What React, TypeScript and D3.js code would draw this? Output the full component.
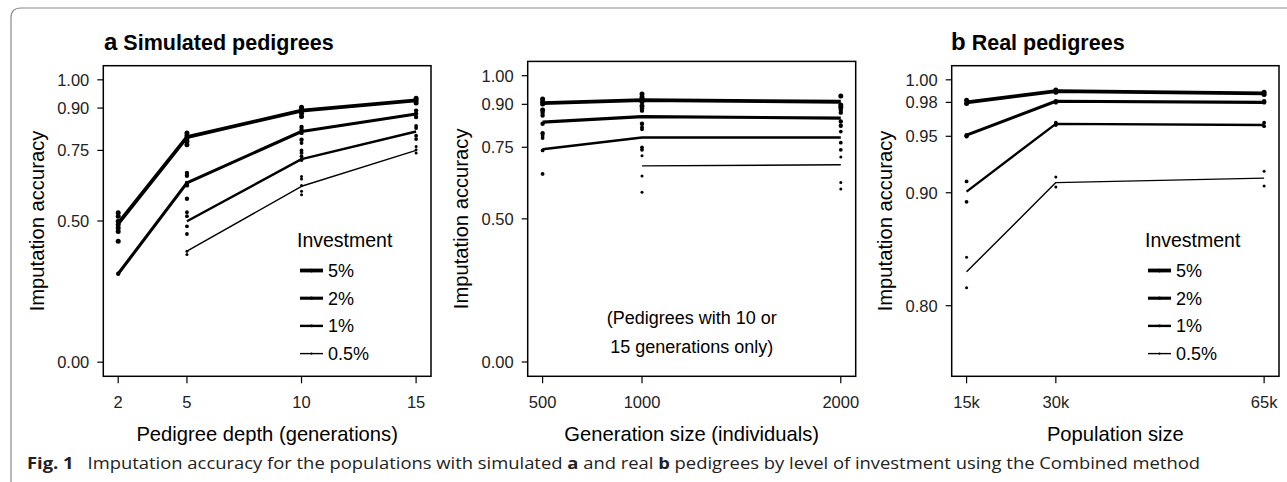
import React from "react";
import * as d3 from "d3";

// ---------- DATA ----------
const investments = ["5%", "2%", "1%", "0.5%"];

// Panel a: pedigree depth
const depthX = [2, 5, 10, 15];
const lineA = [
  [0.491, 0.797, 0.891, 0.927],
  [0.313, 0.635, 0.817, 0.879],
  [null, 0.499, 0.719, 0.817],
  [null, 0.393, 0.623, 0.750],
];
const ptsA = [
  [[0.529, 0.517, 0.499, 0.487, 0.475, 0.463, 0.428], [0.812, 0.802, 0.794, 0.782, 0.770], [0.903, 0.894, 0.882, 0.870], [0.935, 0.927, 0.918]],
  [[0.313], [0.670, 0.660, 0.635, 0.626, 0.579], [0.833, 0.823, 0.812, 0.788], [0.891, 0.880, 0.868]],
  [[], [0.531, 0.517, 0.481, 0.454], [0.776, 0.750, 0.741, 0.729, 0.716], [0.837, 0.829, 0.802, 0.790]],
  [[], [0.393, 0.381], [0.658, 0.649, 0.626, 0.605, 0.593], [0.764, 0.752, 0.741]],
];
const depthTicks = [2, 5, 10, 15];
const accTicksA = [0.0, 0.5, 0.75, 0.9, 1.0];

// Middle panel: generation size
const genX = [500, 1000, 2000];
const lineM = [
  [0.904, 0.915, 0.909],
  [0.838, 0.857, 0.852],
  [0.743, 0.784, 0.784],
  [null, 0.685, 0.689],
];
const ptsM = [
  [[0.919, 0.909, 0.901, 0.880], [0.936, 0.925, 0.909, 0.894], [0.929, 0.898, 0.890]],
  [[0.871, 0.861, 0.832, 0.799], [0.886, 0.878, 0.832], [0.880, 0.871, 0.840, 0.825]],
  [[0.790, 0.782, 0.739, 0.657], [0.820, 0.813, 0.750, 0.741], [0.805, 0.766, 0.741]],
  [[], [0.720, 0.650, 0.593], [0.716, 0.627, 0.604]],
];
const genTicks = [500, 1000, 2000];

// Panel b: population size (thousands)
const popX = [15, 30, 65];
const lineB = [
  [0.980, 0.990, 0.988],
  [0.951, 0.981, 0.980],
  [0.901, 0.961, 0.960],
  [0.830, 0.909, 0.913],
];
const ptsB = [
  [[0.982, 0.979], [0.991, 0.989], [0.989, 0.987]],
  [[0.951, 0.950], [0.981, 0.980], [0.981, 0.980]],
  [[0.910, 0.892], [0.962, 0.960], [0.962, 0.959]],
  [[0.843, 0.816], [0.914, 0.905], [0.919, 0.906]],
];
const popTicks = [15, 30, 65];
const popTickLabels = ["15k", "30k", "65k"];
const accTicksB = [0.8, 0.9, 0.95, 0.98, 1.0];

// ---------- STYLE ----------
const lineW = [3.8, 3.1, 2.4, 1.4];
const dotR = [2.5, 2.2, 1.9, 1.5];
const FONT = "'Liberation Sans', Arial, Helvetica, sans-serif";

type PanelProps = {
  x0: number; x1: number; y0: number; y1: number;
  xDomain: [number, number]; yDomain: [number, number];
  xs: number[]; lines: (number | null)[][]; pts: number[][][];
  xTicks: number[]; xTickLabels?: string[]; yTicks: number[];
  xTitle: string; yTitleX: number;
};

function Panel(p: PanelProps) {
  const xs = d3.scaleLinear().domain(p.xDomain).range([p.x0, p.x1]);
  const ys = d3.scaleLinear().domain(p.yDomain).range([p.y1, p.y0]);
  const line = d3
    .line<[number, number | null]>()
    .defined((d) => d[1] !== null)
    .x((d) => xs(d[0]))
    .y((d) => ys(d[1] as number));
  const midY = (p.y0 + p.y1) / 2;
  return (
    <g>
      {p.lines.map((ln, i) => (
        <path
          key={"l" + i}
          d={line(p.xs.map((x, j) => [x, ln[j]] as [number, number | null])) || ""}
          fill="none"
          stroke="#000"
          strokeWidth={lineW[i]}
          strokeLinejoin="round"
        />
      ))}
      {p.pts.map((series, i) =>
        series.map((vals, j) =>
          vals.map((v, k) => (
            <circle key={`p${i}-${j}-${k}`} cx={xs(p.xs[j])} cy={ys(v)} r={dotR[i]} fill="#000" />
          ))
        )
      )}
      <rect x={p.x0} y={p.y0} width={p.x1 - p.x0} height={p.y1 - p.y0} fill="none" stroke="#000" strokeWidth={1.5} />
      {p.yTicks.map((t) => (
        <g key={"yt" + t}>
          <line x1={p.x0 - 6} x2={p.x0} y1={ys(t)} y2={ys(t)} stroke="#000" strokeWidth={1.2} />
          <text x={p.x0 - 14} y={ys(t)} dy="0.36em" textAnchor="end" fontSize={16.5} fill="#222" fontFamily={FONT}>
            {t.toFixed(2)}
          </text>
        </g>
      ))}
      {p.xTicks.map((t, i) => (
        <g key={"xt" + t}>
          <line x1={xs(t)} x2={xs(t)} y1={p.y1 + 0.5} y2={p.y1 + 7} stroke="#000" strokeWidth={1.2} />
          <text x={xs(t)} y={407.5} textAnchor="middle" fontSize={16.5} fill="#222" fontFamily={FONT}>
            {p.xTickLabels ? p.xTickLabels[i] : String(t)}
          </text>
        </g>
      ))}
      <text x={(p.x0 + p.x1) / 2} y={440.5} textAnchor="middle" fontSize={20.2} fill="#000" fontFamily={FONT}>
        {p.xTitle}
      </text>
      <text
        transform={`translate(${p.yTitleX},${midY}) rotate(-90)`}
        textAnchor="middle"
        fontSize={20.2}
        fill="#000"
        fontFamily={FONT}
      >
        Imputation accuracy
      </text>
    </g>
  );
}

function Legend({ x, y }: { x: number; y: number }) {
  return (
    <g fontFamily={FONT}>
      <text x={x} y={y} fontSize={19.5} fill="#000">Investment</text>
      {investments.map((lab, i) => {
        const cy = y + 23.5 + i * 27.7;
        return (
          <g key={lab}>
            <line x1={x + 3} x2={x + 26} y1={cy} y2={cy} stroke="#000" strokeWidth={lineW[i]} />
            <circle cx={x + 14.5} cy={cy} r={dotR[i] * 0.75} fill="#000" />
            <text x={x + 31} y={cy} dy="0.36em" fontSize={18} fill="#000">{lab}</text>
          </g>
        );
      })}
    </g>
  );
}

export default function App() {
  return (
    <svg width={1287} height={482} style={{ position: "absolute", left: 0, top: 0, background: "#fff" }}>
      <rect x={0} y={0} width={1287} height={482} fill="#fff" />
      <path d="M11,482 L11,18 Q11,8 21,8 L1287,8" fill="none" stroke="#8a8a8a" strokeWidth={1.2} />

      <text x={104} y={50} fontFamily={FONT} fontWeight="bold" fill="#000">
        <tspan fontSize={24}>a</tspan>
        <tspan fontSize={21.5}> Simulated pedigrees</tspan>
      </text>
      <text x={951} y={50} fontFamily={FONT} fontWeight="bold" fill="#000">
        <tspan fontSize={24}>b</tspan>
        <tspan fontSize={21.5}> Real pedigrees</tspan>
      </text>

      <Panel
        x0={103.3} x1={431} y0={65.7} y1={376.3}
        xDomain={[1.35, 15.65]} yDomain={[-0.05, 1.05]}
        xs={depthX} lines={lineA} pts={ptsA}
        xTicks={depthTicks} yTicks={accTicksA}
        xTitle="Pedigree depth (generations)" yTitleX={44}
      />
      <Legend x={297} y={247} />

      <Panel
        x0={527.7} x1={855.7} y0={61.4} y1={376.3}
        xDomain={[425, 2075]} yDomain={[-0.05, 1.05]}
        xs={genX} lines={lineM} pts={ptsM}
        xTicks={genTicks} yTicks={accTicksA}
        xTitle="Generation size (individuals)" yTitleX={468.4}
      />
      <text x={691.7} y={324} textAnchor="middle" fontSize={18} fontFamily={FONT} fill="#000">(Pedigrees with 10 or</text>
      <text x={691.7} y={353} textAnchor="middle" fontSize={18} fontFamily={FONT} fill="#000">15 generations only)</text>

      <Panel
        x0={951.7} x1={1279} y0={65.7} y1={376.3}
        xDomain={[12.5, 67.5]} yDomain={[0.7375, 1.0125]}
        xs={popX} lines={lineB} pts={ptsB}
        xTicks={popTicks} xTickLabels={popTickLabels} yTicks={accTicksB}
        xTitle="Population size" yTitleX={892.4}
      />
      <Legend x={1145} y={247} />

      <text x={27} y={469} fontFamily="'Open Sans', 'Noto Sans', sans-serif" fontSize={16} fill="#222"
        textLength={1173} lengthAdjust="spacingAndGlyphs">
        <tspan fontWeight="bold">Fig. 1</tspan>
        <tspan>{"\u2002 Imputation accuracy for the populations with simulated "}</tspan>
        <tspan fontWeight="bold">a</tspan>
        <tspan>{" and real "}</tspan>
        <tspan fontWeight="bold">b</tspan>
        <tspan>{" pedigrees by level of investment using the Combined method"}</tspan>
      </text>
    </svg>
  );
}
